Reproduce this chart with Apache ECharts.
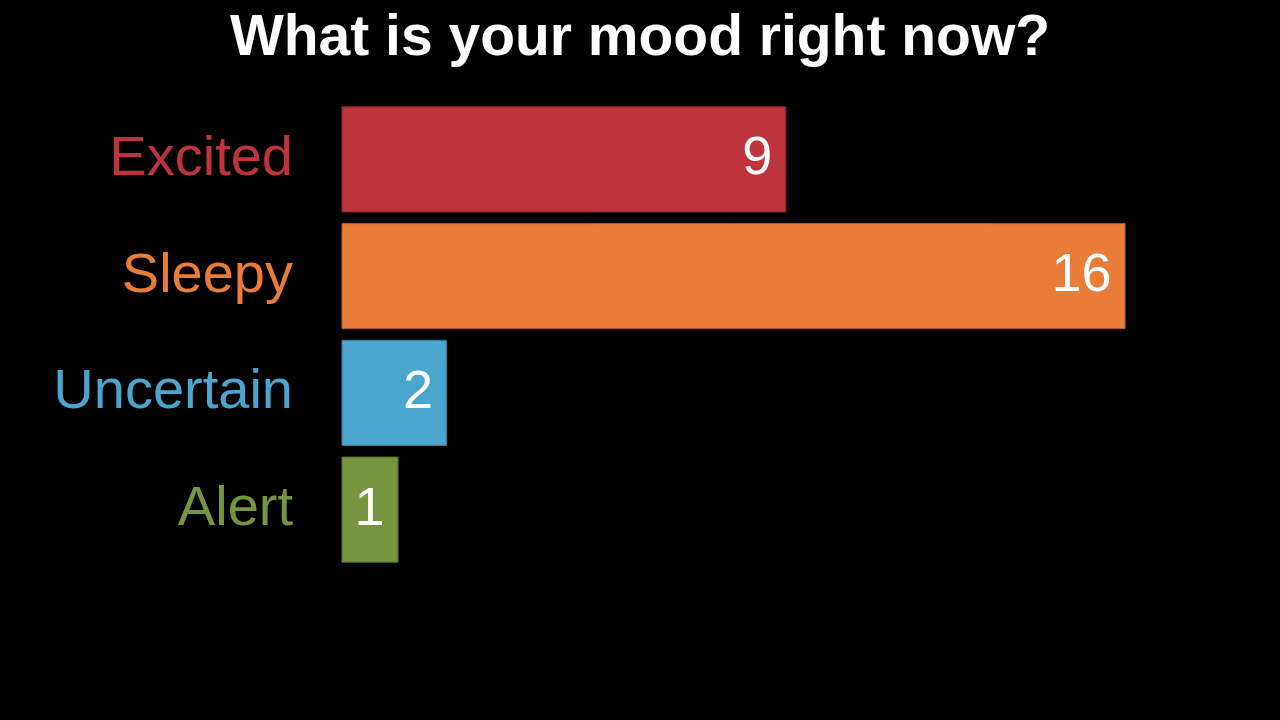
<!DOCTYPE html>
<html>
<head>
<meta charset="utf-8">
<script src="https://cdn.jsdelivr.net/npm/echarts@6/dist/echarts.min.js"></script>
<style>
html,body{margin:0;padding:0;background:#000;}
#chart{width:1280px;height:720px;}
</style>
</head>
<body>
<div id="chart"></div>
<script>
const titleText = 'What is your mood right now?';
const categories = ['Excited', 'Sleepy', 'Uncertain', 'Alert'];
const counts = [9, 16, 2, 1];
const barColors = ['#BF333C', '#E97C38', '#4AA6CC', '#77943F'];
const borderColors = ['#8E262D', '#AE5C2A', '#377C99', '#59702F'];
const axisMin = -0.155;
const axisMax = 18;

const chart = echarts.init(document.getElementById('chart'), null, {renderer: 'canvas'});
const fontFamily = '"Liberation Sans", Arial, sans-serif';

chart.setOption({
  backgroundColor: '#000',
  title: {
    text: titleText,
    left: 'center',
    top: 6,
    textStyle: {color: '#fff', fontSize: 57, fontWeight: 'bold', fontFamily: fontFamily}
  },
  grid: {left: 342, right: 58, top: 101, bottom: 152, containLabel: false},
  xAxis: {
    type: 'value', min: axisMin, max: axisMax, show: false
  },
  yAxis: {
    type: 'category',
    data: categories,
    inverse: true,
    axisLine: {show: false},
    axisTick: {show: false},
    splitLine: {show: false},
    axisLabel: {
      margin: 49,
      fontSize: 56,
      fontFamily: fontFamily,
      color: function (v, i) { return barColors[i]; }
    }
  },
  series: [{
    type: 'custom',
    data: counts.map((v, i) => [v, i]),
    encode: {x: 0, y: 1},
    renderItem: function (params, api) {
      const val = api.value(0);
      const cat = api.value(1);
      const start = api.coord([axisMin, cat]);
      const end = api.coord([val, cat]);
      const band = api.size([0, 1])[1];
      const h = band * 0.9;
      return {
        type: 'rect',
        shape: {x: start[0], y: start[1] - h / 2, width: end[0] - start[0], height: h},
        style: {fill: barColors[cat], stroke: borderColors[cat], lineWidth: 1},
        textContent: {
          style: {text: String(val), fill: '#fff', fontSize: 54, fontFamily: fontFamily}
        },
        textConfig: {position: 'insideRight', distance: 14}
      };
    }
  }]
});
</script>
</body>
</html>
